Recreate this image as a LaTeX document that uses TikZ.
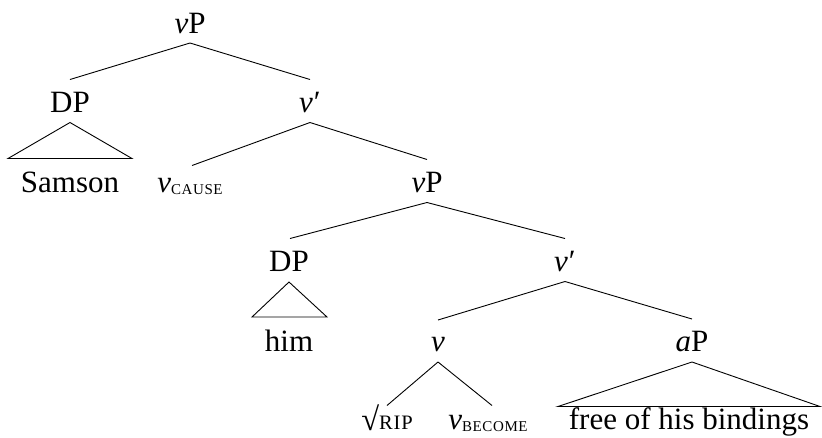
\documentclass[tikz,border=0pt]{standalone}
\usepackage{fontspec}
\usepackage{graphicx}
\setmainfont{Liberation Serif}
\newfontfamily\scfont[LetterSpace=4]{Liberation Serif}
\usetikzlibrary{calc}
\newcommand{\smallcapsub}[1]{\raisebox{-2pt}{\scfont\fontsize{15}{16}\selectfont #1}}
\newcommand{\smallcapbig}[1]{{\scfont\fontsize{20.5}{21}\selectfont #1}}
\newcommand{\myroot}{\raisebox{-1pt}{\scalebox{1.05}{√}}}
\begin{document}
\begin{tikzpicture}[x=1pt,y=-1pt,
  lab/.style={anchor=base,inner sep=0pt,font=\fontsize{31}{34}\selectfont},
  edge/.style={line width=0.9pt},
  ]
\useasboundingbox (0,0) rectangle (822,437);
% nodes
\node[lab] (vP1) at (190,33) {\textit{v}P};
\node[lab] (DP1) at (70,112.5) {DP};
\node[lab] (vbar1) at (310,112.5) {\textit{v}\kern1pt′};
\node[lab] (samson) at (70,192.5) {Samson};
\node[lab] (vcause) at (190,192.5) {\textit{v}\smallcapsub{CAUSE}};
\node[lab] (vP2) at (427,192.5) {\textit{v}P};
\node[lab] (DP2) at (289,271.5) {DP};
\node[lab] (vbar2) at (565,271.5) {\textit{v}\kern1pt′};
\node[lab] (him) at (289,351) {him};
\node[lab] (v) at (438,351) {\textit{v}};
\node[lab] (aP) at (692,351) {\textit{a}P};
\node[lab] (rip) at (387,429.5) {\myroot\smallcapbig{RIP}};
\node[lab] (vbecome) at (488,429.5) {\textit{v}\smallcapsub{BECOME}};
\node[lab] (free) at (689,429.5) {free of his bindings};
% edges
\draw[edge] ($(vP1.base)+(0,10)$) -- ($(DP1.base)+(0,-33)$);
\draw[edge] ($(vP1.base)+(0,10)$) -- ($(vbar1.base)+(0,-33)$);
\draw[edge] ($(DP1.base)+(0,10)$) -- ($(samson.base)+(-62,-34)$) -- ($(samson.base)+(62,-34)$) -- cycle;
\draw[edge] ($(vbar1.base)+(0,10)$) -- ($(vcause.base)+(2,-27)$);
\draw[edge] ($(vbar1.base)+(0,10)$) -- ($(vP2.base)+(0,-33)$);
\draw[edge] ($(vP2.base)+(0,10)$) -- ($(DP2.base)+(1,-33)$);
\draw[edge] ($(vP2.base)+(0,10)$) -- ($(vbar2.base)+(0,-33)$);
\draw[edge] ($(DP2.base)+(0,10.5)$) -- ($(him.base)+(-37,-34)$) -- ($(him.base)+(38,-34)$) -- cycle;
\draw[edge] ($(vbar2.base)+(0,10)$) -- ($(v.base)+(0,-31)$);
\draw[edge] ($(vbar2.base)+(0,10)$) -- ($(aP.base)+(0,-32)$);
\draw[edge] ($(v.base)+(0,11)$) -- ($(rip.base)+(0,-24)$);
\draw[edge] ($(v.base)+(0,11)$) -- ($(vbecome.base)+(4,-24)$);
\draw[edge] ($(aP.base)+(0,11)$) -- ($(free.base)+(-131,-23)$) -- ($(free.base)+(131,-23)$) -- cycle;
\end{tikzpicture}
\end{document}
